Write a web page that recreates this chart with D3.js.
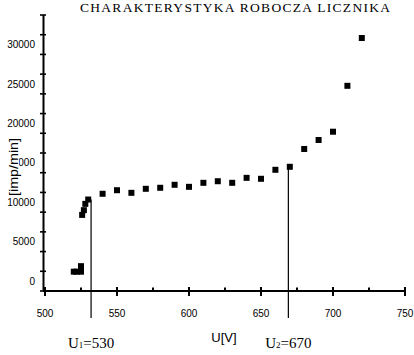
<!DOCTYPE html>
<html>
<head>
  <style>
    body { margin: 0; background: #fff; }
    svg text { fill: #000; }
  </style>
  <script src="https://d3js.org/d3.v7.min.js"></script>
</head>
<body>
  <div id="chart"></div>
  <script>
    // napiecie U [V] i liczba impulsow [imp/min]
    const voltage = [520, 522, 525, 525, 525.8, 527, 528, 530, 540, 550, 560, 570, 580, 590, 600,
                     610, 620, 630, 640, 650, 660, 670, 680, 690, 700, 710, 720];
    const counts = [1200, 1200, 1200, 1900, 8400, 9000, 9800, 10350, 11080, 11530, 11200, 11710, 11840,
                    12220, 11960, 12470, 12670, 12470, 13100, 12980, 14120, 14500, 16760, 17900, 18950,
                    24770, 30830];
    const xLabels = [500, 550, 600, 650, 700, 750];
    const xMinor = [525, 575, 625, 675, 725];
    const yLabels = [0, 5000, 10000, 15000, 20000, 25000, 30000];
    const yTicks = d3.range(-1250, 34000, 2500);
    // granice plateau
    const markU = [532, 669];
    const markTop = [10350, 14500];
    const markText = [["U", "1", "=530"], ["U", "2", "=670"]];

    const W = 414, H = 355;
    const svg = d3.select("#chart").append("svg").attr("width", W).attr("height", H);

    const x = d3.scaleLinear().domain([500, 750]).range([45, 405]);
    const y = d3.scaleLinear().domain([-1250, 33750]).range([291, 15]);

    // title
    svg.append("text")
      .attr("x", 80).attr("y", 11.5)
      .attr("textLength", 310).attr("lengthAdjust", "spacing")
      .style("font-family", "'Liberation Serif', serif").style("font-size", "13.5px")
      .text("CHARAKTERYSTYKA ROBOCZA LICZNIKA");

    // y axis
    svg.append("line")
      .attr("x1", 43.5).attr("x2", 43.5)
      .attr("y1", y(33750)).attr("y2", y(-1250))
      .attr("stroke", "#000").attr("stroke-width", 2);
    svg.selectAll(".ytick").data(yTicks).join("line")
      .attr("class", "ytick")
      .attr("x1", 40).attr("x2", 46)
      .attr("y1", d => y(d)).attr("y2", d => y(d))
      .attr("stroke", "#000").attr("stroke-width", 1.6);
    svg.selectAll(".ylab").data(yLabels).join("text")
      .attr("class", "ylab")
      .attr("x", 35).attr("y", d => y(d)).attr("dy", "0.35em")
      .attr("text-anchor", "end")
      .style("font-family", "'Liberation Sans', Arial, sans-serif").style("font-size", "10px")
      .text(d => d);

    // x axis
    svg.append("line")
      .attr("x1", 43).attr("x2", 406)
      .attr("y1", 291).attr("y2", 291)
      .attr("stroke", "#000").attr("stroke-width", 2);
    svg.selectAll(".xtick").data(xLabels).join("line")
      .attr("class", "xtick")
      .attr("x1", d => x(d)).attr("x2", d => x(d))
      .attr("y1", 287).attr("y2", 296)
      .attr("stroke", "#000").attr("stroke-width", 2);
    svg.selectAll(".xminor").data(xMinor).join("line")
      .attr("class", "xminor")
      .attr("x1", d => x(d)).attr("x2", d => x(d))
      .attr("y1", 287.5).attr("y2", 292)
      .attr("stroke", "#000").attr("stroke-width", 2);
    svg.selectAll(".xlab").data(xLabels).join("text")
      .attr("class", "xlab")
      .attr("x", d => x(d)).attr("y", 317)
      .attr("text-anchor", "middle")
      .style("font-family", "'Liberation Sans', Arial, sans-serif").style("font-size", "10px")
      .text(d => d);

    // axis titles
    svg.append("text")
      .attr("x", 224).attr("y", 342)
      .attr("text-anchor", "middle")
      .style("font-family", "'Liberation Sans', Arial, sans-serif").style("font-size", "13px")
      .text("U[V]");

    const yt = svg.append("g").attr("transform", "translate(13,167) rotate(-90)");
    yt.append("rect")
      .attr("x", -30).attr("y", -6).attr("width", 60).attr("height", 12)
      .attr("fill", "#fff");
    yt.append("text")
      .attr("x", 0).attr("y", 0).attr("dy", "0.35em")
      .attr("text-anchor", "middle").attr("textLength", 58).attr("lengthAdjust", "spacingAndGlyphs")
      .style("font-family", "'Liberation Sans', Arial, sans-serif").style("font-size", "13px")
      .text("[imp/min]");

    // vertical lines U1, U2
    svg.selectAll(".mark").data(markU).join("line")
      .attr("class", "mark")
      .attr("x1", d => x(d)).attr("x2", d => x(d))
      .attr("y1", (d, i) => y(markTop[i])).attr("y2", 318)
      .attr("stroke", "#000").attr("stroke-width", 1.2);

    const ml = svg.selectAll(".mlab").data(markU).join("text")
      .attr("class", "mlab")
      .attr("x", d => x(d)).attr("y", 348)
      .attr("text-anchor", "middle")
      .style("font-family", "'Liberation Serif', serif").style("font-size", "15px");
    ml.append("tspan").text((d, i) => markText[i][0]);
    ml.append("tspan").style("font-size", "9px").text((d, i) => markText[i][1]);
    ml.append("tspan").text((d, i) => markText[i][2]);

    // points
    const pts = voltage.map((u, i) => ({ u, n: counts[i] }));
    svg.selectAll(".pt").data(pts).join("rect")
      .attr("class", "pt")
      .attr("x", d => x(d.u) - 3).attr("y", d => y(d.n) - 3)
      .attr("width", 6).attr("height", 6)
      .attr("fill", "#000");
  </script>
</body>
</html>
